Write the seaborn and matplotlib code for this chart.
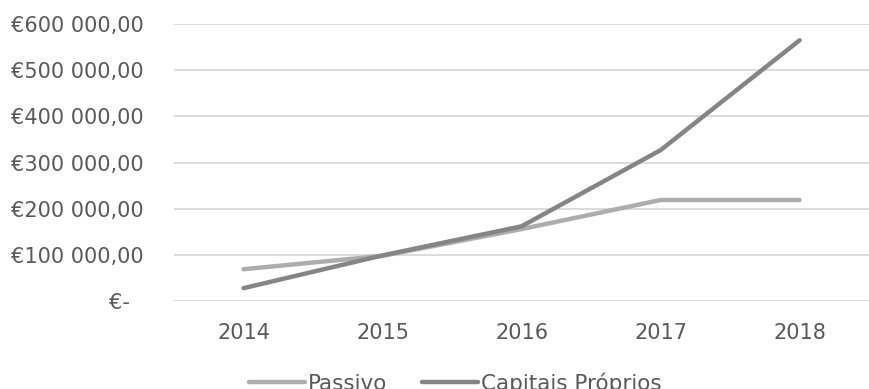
import matplotlib
matplotlib.use("Agg")
import matplotlib.pyplot as plt
import seaborn as sns
import pandas as pd
from matplotlib.lines import Line2D

years = ["2014", "2015", "2016", "2017", "2018"]
passivo = [69000, 98000, 156000, 219000, 219000]
capitais = [28000, 99000, 162000, 327000, 565000]
series_names = ["Passivo", "Capitais Próprios"]
yticks = [0, 100000, 200000, 300000, 400000, 500000, 600000]
ytick_labels = ["€-  ", "€100 000,00", "€200 000,00", "€300 000,00",
                "€400 000,00", "€500 000,00", "€600 000,00"]

df = pd.DataFrame({
    "Ano": years * 2,
    "Valor": passivo + capitais,
    "Série": [series_names[0]] * len(years) + [series_names[1]] * len(years),
})

sns.set_theme(style="white")
plt.rcParams["font.family"] = ["DejaVu Sans"]

fig = plt.figure(figsize=(8.7, 3.89), dpi=100)
ax = fig.add_axes([0.2, 0.226, 0.799, 0.712])

colors = {"Passivo": "#ADADAD", "Capitais Próprios": "#858585"}
sns.lineplot(data=df, x="Ano", y="Valor", hue="Série", ax=ax,
             palette=colors, linewidth=3.2, legend=False, sort=False)
for ln in ax.lines:
    ln.set_solid_capstyle("round")

ax.set_xlim(-0.5, 4.5)
ax.set_ylim(0, 600000)
ax.set_yticks(yticks)
ax.set_yticklabels(ytick_labels)
ax.set_xlabel("")
ax.set_ylabel("")
ax.grid(axis="y", color="#D9D9D9", linewidth=1.3)
ax.grid(axis="x", visible=False)
ax.set_axisbelow(True)
for s in ax.spines.values():
    s.set_visible(False)
ax.tick_params(axis="y", length=0, pad=22, labelsize=15, labelcolor="#595959")
ax.tick_params(axis="x", length=0, pad=16, labelsize=15, labelcolor="#595959")

handles = [Line2D([0], [0], color=colors[n], lw=3.2, solid_capstyle="round")
           for n in series_names]
fig.legend(handles, series_names, loc="center", bbox_to_anchor=(0.523, 0.015),
           ncol=2, frameon=False, fontsize=15.5, labelcolor="#595959",
           handlelength=2.6, handletextpad=0.15, columnspacing=1.6)

fig.savefig("out.png", dpi=100)
